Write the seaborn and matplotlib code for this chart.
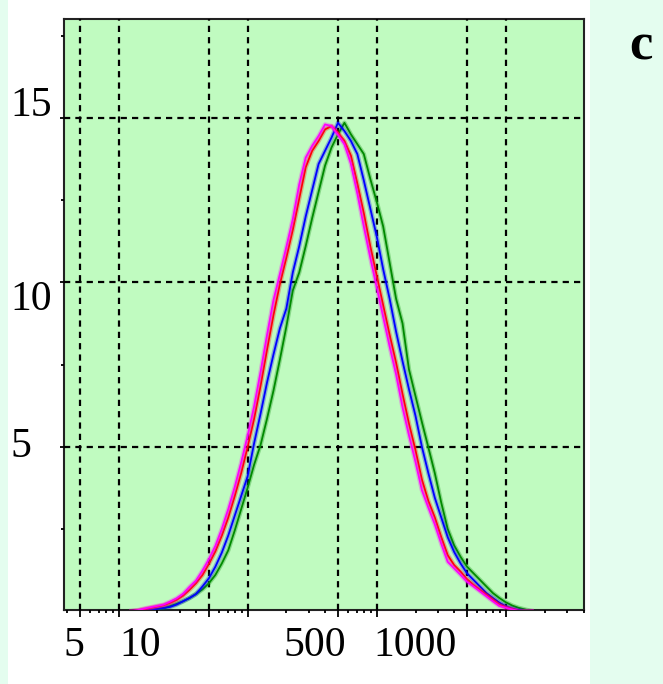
import numpy as np
import pandas as pd
import matplotlib
matplotlib.use("Agg")
import matplotlib.pyplot as plt
import matplotlib.patheffects as pe
from matplotlib.transforms import ScaledTranslation
from matplotlib.ticker import FixedLocator, NullFormatter
import seaborn as sns

# ---- data ----
size = [12.59, 14.13, 15.85, 17.78, 19.95, 22.39, 25.12, 28.18, 31.62, 35.48,
        39.81, 44.67, 50.12, 56.23, 63.10, 70.79, 79.43, 89.13, 100.0, 112.2,
        125.9, 141.3, 158.5, 177.8, 199.5, 223.9, 251.2, 281.8, 316.2, 354.8,
        398.1, 446.7, 501.2, 562.3, 631.0, 707.9, 794.3, 891.3, 1000, 1122,
        1259, 1413, 1585, 1778, 1995, 2239, 2512, 2818, 3162, 3548,
        3981, 4467, 5012, 5623, 6310, 7079, 7943, 8913, 10000, 11220,
        12590, 14130, 15850]

magenta = [0.0, 0.03, 0.08, 0.12, 0.16, 0.2, 0.29, 0.39, 0.53, 0.74,
           0.93, 1.23, 1.58, 1.98, 2.5, 3.1, 3.77, 4.52, 5.33, 6.22,
           7.27, 8.39, 9.45, 10.25, 11.07, 11.92, 12.98, 13.79, 14.15, 14.45,
           14.8, 14.75, 14.48, 14.2, 13.6, 12.7, 11.7, 10.75, 9.85, 8.95,
           8.05, 7.2, 6.2, 5.35, 4.55, 3.68, 3.15, 2.64, 2.05, 1.5,
           1.3, 1.1, 0.89, 0.75, 0.6, 0.45, 0.3, 0.16, 0.1, 0.05,
           0.0, 0.0, 0.0]

red = [0.0, 0.02, 0.06, 0.1, 0.14, 0.18, 0.25, 0.34, 0.47, 0.65,
       0.85, 1.1, 1.44, 1.82, 2.3, 2.85, 3.5, 4.2, 5.0, 5.85,
       6.85, 7.95, 9.0, 9.95, 10.75, 11.6, 12.55, 13.5, 14.0, 14.3,
       14.65, 14.75, 14.55, 14.3, 13.85, 13.0, 12.1, 11.1, 10.2, 9.3,
       8.4, 7.55, 6.6, 5.7, 4.9, 4.0, 3.35, 2.85, 2.25, 1.7,
       1.4, 1.2, 0.97, 0.8, 0.65, 0.5, 0.35, 0.2, 0.12, 0.06,
       0.0, 0.0, 0.0]

blue = [0.0, 0.0, 0.02, 0.04, 0.07, 0.1, 0.13, 0.2, 0.3, 0.4,
        0.52, 0.75, 1.0, 1.35, 1.78, 2.3, 2.9, 3.5, 4.1, 5.1,
        6.0, 6.95, 7.8, 8.6, 9.2, 10.3, 11.1, 12.0, 12.8, 13.6,
        14.0, 14.4, 14.85, 14.6, 14.3, 13.9, 13.1, 12.25, 11.4, 10.4,
        9.5, 8.5, 7.6, 6.75, 5.95, 5.0, 4.2, 3.45, 2.85, 2.25,
        1.8, 1.45, 1.15, 0.95, 0.75, 0.55, 0.4, 0.26, 0.15, 0.08,
        0.03, 0.0, 0.0]

green = [0.0, 0.0, 0.0, 0.02, 0.05, 0.08, 0.15, 0.22, 0.3, 0.4,
         0.52, 0.66, 0.85, 1.1, 1.45, 1.85, 2.45, 3.1, 3.75, 4.45,
         5.05, 5.85, 6.7, 7.65, 8.65, 9.75, 10.3, 11.1, 11.95, 12.75,
         13.55, 14.1, 14.5, 14.85, 14.5, 14.2, 13.9, 13.15, 12.45, 11.7,
         10.6, 9.5, 8.75, 7.35, 6.55, 5.75, 4.98, 4.2, 3.3, 2.5,
         2.0, 1.65, 1.35, 1.15, 0.95, 0.75, 0.55, 0.4, 0.27, 0.17,
         0.1, 0.05, 0.0]

series_names = ["green", "blue", "red", "magenta"]
series_colors = ["#008a00", "#0000ff", "#ff0000", "#ff00ff"]
grid_x = [5, 10, 50, 100, 500, 1000, 5000, 10000]
x_labels = ["5", "10", "", "", "500", "1000", "", ""]
y_ticks = [5, 10, 15]
y_labels = ["5", "10", "15"]

# ---- build table ----
frames = []
for name, vals in zip(series_names, [green, blue, red, magenta]):
    frames.append(pd.DataFrame({"size": size, "value": vals, "series": name}))
df = pd.concat(frames, ignore_index=True)

W, H = 663, 684
fig = plt.figure(figsize=(W / 100, H / 100), dpi=100)
fig.patch.set_facecolor("#e4fdef")
fig.patches.append(plt.Rectangle((8 / W, 0), (590 - 8) / W, 1, transform=fig.transFigure,
                                 facecolor="white", edgecolor="none", zorder=-10))

ax = fig.add_axes([64.3 / W, 1 - 609.5 / H, (583.5 - 64.3) / W, (609.5 - 19.2) / H])
ax.set_zorder(5)
ax.set_facecolor("#c0fbc0")

sns.lineplot(data=df, x="size", y="value", hue="series", hue_order=series_names,
             palette=dict(zip(series_names, series_colors)), estimator=None,
             sort=False, legend=False, linewidth=1.3, ax=ax, zorder=3)
for line in ax.get_lines():
    line.set_path_effects([pe.Stroke(linewidth=3.2, foreground=line.get_color(), alpha=0.3),
                           pe.Normal()])

ax.set_xscale("log")
ax.set_xlim(3.8, 40000)
ax.set_ylim(0.05, 18)
ax.set_xlabel("")
ax.set_ylabel("")

ax.xaxis.set_major_locator(FixedLocator(grid_x))
ax.set_xticklabels(x_labels)
minor_x = [m * 10 ** d for d in range(0, 5) for m in range(2, 10)
           if m * 10 ** d not in grid_x and 3.8 <= m * 10 ** d <= 40000]
ax.xaxis.set_minor_locator(FixedLocator(minor_x))
ax.xaxis.set_minor_formatter(NullFormatter())

ax.set_yticks(y_ticks)
ax.set_yticklabels(y_labels)
ax.yaxis.set_minor_locator(FixedLocator([2.5, 7.5, 12.5, 17.5]))

ax.grid(True, which="major", color="black", linewidth=1.6, linestyle=(0, (2.8, 2.3)))
ax.set_axisbelow(False)
for l in ax.get_xgridlines() + ax.get_ygridlines():
    l.set_zorder(2)

for s in ax.spines.values():
    s.set_color("#222222")
    s.set_linewidth(1.5)

serif = "Liberation Serif"
ax.tick_params(axis="x", which="major", direction="out", length=5, width=1.3,
               pad=7.5, labelsize=30, colors="black")
ax.tick_params(axis="x", which="minor", direction="out", length=2.5, width=1.3)
ax.tick_params(axis="y", which="major", direction="out", length=3, width=1.3,
               pad=36, labelsize=30)
ax.tick_params(axis="y", which="minor", direction="out", length=2.5, width=1.3)
for lab in ax.get_xticklabels() + ax.get_yticklabels():
    lab.set_fontfamily(serif)
for lab in ax.get_yticklabels():
    lab.set_horizontalalignment("left")

fig.text(641 / W, 1 - 47 / H, "c", fontsize=38, fontweight="bold", fontfamily=serif,
         ha="center", va="center")

fig.canvas.draw()
x_off = {"5": -6, "10": 22, "500": -23, "1000": 38}
for lab in ax.get_xticklabels():
    t = lab.get_text()
    if t in x_off:
        lab.set_transform(lab.get_transform() + ScaledTranslation(x_off[t] / 100, 0, fig.dpi_scale_trans))
y_off = {"15": 17, "10": -13, "5": 4}
for lab in ax.get_yticklabels():
    t = lab.get_text()
    if t in y_off:
        lab.set_transform(lab.get_transform() + ScaledTranslation(0, y_off[t] / 100, fig.dpi_scale_trans))

fig.savefig("out.png", dpi=100, facecolor=fig.get_facecolor())
